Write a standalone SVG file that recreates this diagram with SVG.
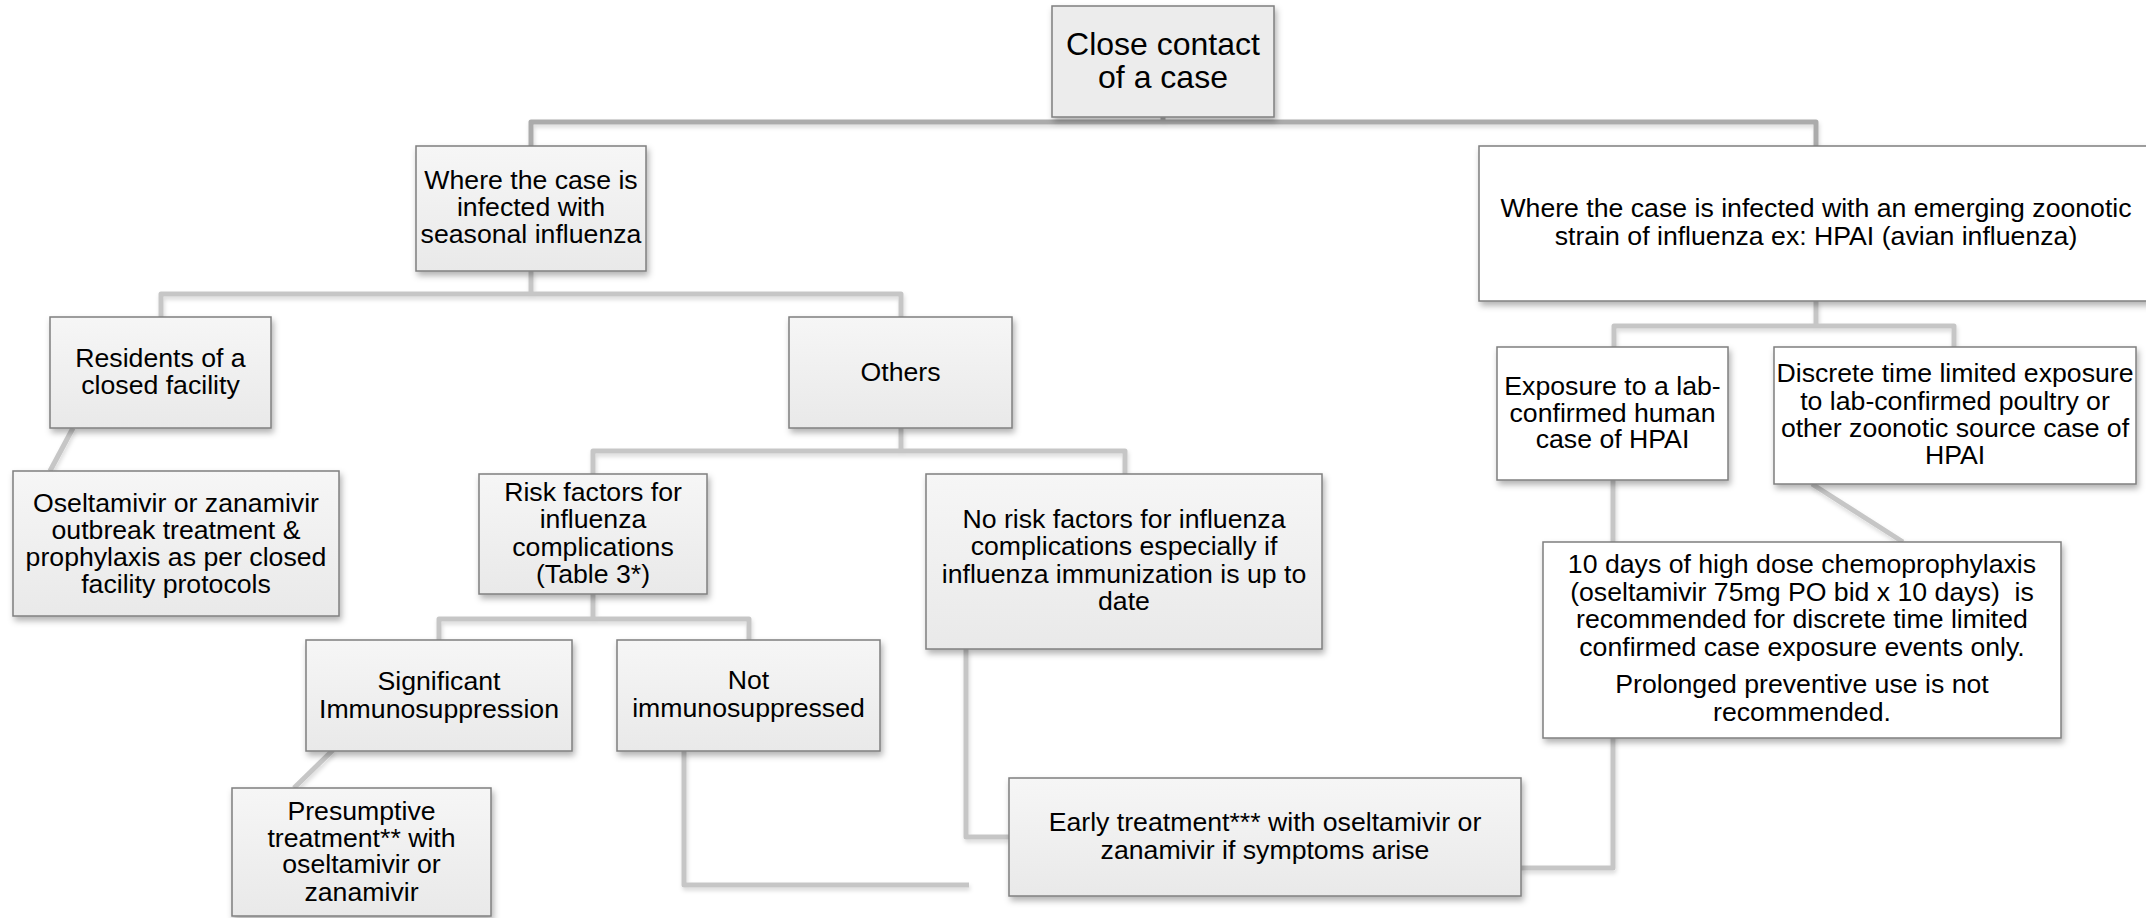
<svg xmlns="http://www.w3.org/2000/svg" width="2146" height="918" viewBox="0 0 2146 918">
<style>
.box{stroke:#7f7f7f;stroke-width:1.5;filter:url(#sh)}
.g{fill:url(#gr)}
.w{fill:#ffffff}
.r{fill:#ececec}
text{font-family:"Liberation Sans",Arial,sans-serif;font-size:26.67px;fill:#000;text-anchor:middle}
.big{font-size:32px}
.c1{fill:none;stroke:#ababab;stroke-width:5;stroke-linejoin:round}
.c2{fill:none;stroke:#c6c6c6;stroke-width:5;stroke-linejoin:round}
</style>
<defs>
<linearGradient id="gr" x1="0" y1="0" x2="0" y2="1">
<stop offset="0" stop-color="#f6f6f6"/>
<stop offset="1" stop-color="#e9e9e9"/>
</linearGradient>
<filter id="sh" x="-10%" y="-10%" width="125%" height="130%">
<feDropShadow dx="2" dy="4" stdDeviation="3" flood-color="#000" flood-opacity="0.3"/>
</filter>
<filter id="lsh" x="-10%" y="-10%" width="125%" height="130%">
<feDropShadow dx="1" dy="3" stdDeviation="2" flood-color="#000" flood-opacity="0.15"/>
</filter>
</defs>
<rect width="2146" height="918" fill="#ffffff"/>
<g id="connectors" filter="url(#lsh)">
<path class="c1" d="M1163,117 V122 M531,146 V122 H1816 V146"/>
<path class="c2" d="M531,271 V294 M161,317 V294 H901 V317"/>
<path class="c2" d="M73,428 L50,471"/>
<path class="c2" d="M901,428 V451 M593,474 V451 H1125 V474"/>
<path class="c2" d="M593,594 V619 M439,640 V619 H749 V640"/>
<path class="c2" d="M333,750 L294,788"/>
<path class="c2" d="M684,751 V885 H969"/>
<path class="c2" d="M966,649 V837 H1009"/>
<path class="c2" d="M1521,868 H1613 V480"/>
<path class="c2" d="M1816,301 V326 M1614,347 V326 H1954 V347"/>
<path class="c2" d="M1812,484 L1903,542"/>
</g>
<g id="root">
<rect class="box r" x="1052" y="6" width="222" height="111"/>
<text class="big" x="1163" y="55">Close contact</text>
<text class="big" x="1163" y="88">of a case</text>
</g>
<g id="seasonal">
<rect class="box g" x="416" y="146" width="230" height="125"/>
<text x="531" y="189">Where the case is</text>
<text x="531" y="216">infected with</text>
<text x="531" y="243">seasonal influenza</text>
</g>
<g id="residents">
<rect class="box g" x="50" y="317" width="221" height="111"/>
<text x="160.5" y="367">Residents of a</text>
<text x="160.5" y="394">closed facility</text>
</g>
<g id="oseltamivir">
<rect class="box g" x="13" y="471" width="326" height="145"/>
<text x="176" y="512">Oseltamivir or zanamivir</text>
<text x="176" y="539">outbreak treatment &amp;</text>
<text x="176" y="566">prophylaxis as per closed</text>
<text x="176" y="593">facility protocols</text>
</g>
<g id="others">
<rect class="box g" x="789" y="317" width="223" height="111"/>
<text x="900.5" y="381">Others</text>
</g>
<g id="riskfactors">
<rect class="box g" x="479" y="474" width="228" height="120"/>
<text x="593" y="501">Risk factors for</text>
<text x="593" y="528">influenza</text>
<text x="593" y="556">complications</text>
<text x="593" y="583">(Table 3*)</text>
</g>
<g id="norisk">
<rect class="box g" x="926" y="474" width="396" height="175"/>
<text x="1124" y="528">No risk factors for influenza</text>
<text x="1124" y="555">complications especially if</text>
<text x="1124" y="583">influenza immunization is up to</text>
<text x="1124" y="610">date</text>
</g>
<g id="significant">
<rect class="box g" x="306" y="640" width="266" height="111"/>
<text x="439" y="690">Significant</text>
<text x="439" y="718">Immunosuppression</text>
</g>
<g id="notimmuno">
<rect class="box g" x="617" y="640" width="263" height="111"/>
<text x="748.5" y="689">Not</text>
<text x="748.5" y="717">immunosuppressed</text>
</g>
<g id="presumptive">
<rect class="box g" x="232" y="788" width="259" height="128"/>
<text x="361.5" y="820">Presumptive</text>
<text x="361.5" y="847">treatment** with</text>
<text x="361.5" y="873">oseltamivir or</text>
<text x="361.5" y="901">zanamivir</text>
</g>
<g id="early">
<rect class="box g" x="1009" y="778" width="512" height="118"/>
<text x="1265" y="831">Early treatment*** with oseltamivir or</text>
<text x="1265" y="859">zanamivir if symptoms arise</text>
</g>
<g id="zoonotic">
<rect class="box w" x="1479" y="146" width="674" height="155"/>
<text x="1816" y="217">Where the case is infected with an emerging zoonotic</text>
<text x="1816" y="245">strain of influenza ex: HPAI (avian influenza)</text>
</g>
<g id="exposure">
<rect class="box w" x="1497" y="347" width="231" height="133"/>
<text x="1612.5" y="395">Exposure to a lab-</text>
<text x="1612.5" y="422">confirmed human</text>
<text x="1612.5" y="448">case of HPAI</text>
</g>
<g id="discrete">
<rect class="box w" x="1774" y="347" width="362" height="137"/>
<text x="1955" y="382">Discrete time limited exposure</text>
<text x="1955" y="410">to lab-confirmed poultry or</text>
<text x="1955" y="437">other zoonotic source case of</text>
<text x="1955" y="464">HPAI</text>
</g>
<g id="tendays">
<rect class="box w" x="1543" y="542" width="518" height="196"/>
<text x="1802" y="573">10 days of high dose chemoprophylaxis</text>
<text x="1802" y="601" xml:space="preserve">(oseltamivir 75mg PO bid x 10 days)  is</text>
<text x="1802" y="628">recommended for discrete time limited</text>
<text x="1802" y="656">confirmed case exposure events only.</text>
<text x="1802" y="693">Prolonged preventive use is not</text>
<text x="1802" y="721">recommended.</text>
</g>
</svg>
